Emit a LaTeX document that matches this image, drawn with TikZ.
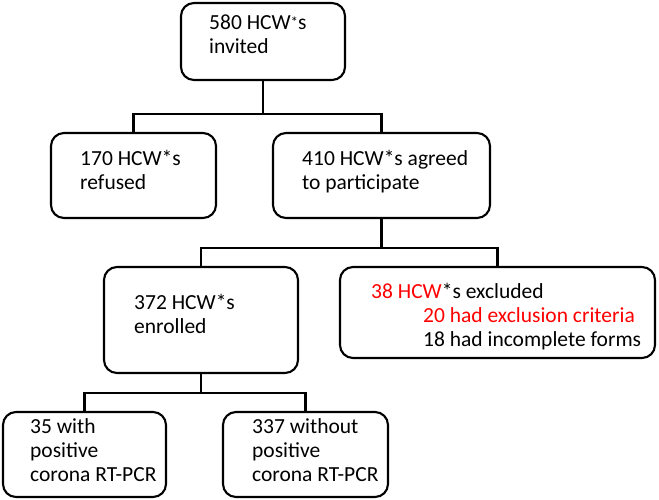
\documentclass[tikz,border=0pt]{standalone}
\usepackage{fontspec}
\setmainfont{Carlito}
\usetikzlibrary{positioning}

\begin{document}
\begin{tikzpicture}[
  x=1pt, y=-1pt,
  box/.style={draw, line width=2.1pt, rounded corners=13pt, inner sep=0pt},
  txt/.style={anchor=north west, align=left, inner sep=0pt, font=\fontsize{21.5}{24}\selectfont},
  link/.style={line width=2.1pt}
]
  \useasboundingbox (0,0) rectangle (659,499);

  % boxes
  \node[box, minimum width=164pt, minimum height=77pt] (invited) at (263,41.5) {};
  \node[box, minimum width=165pt, minimum height=85pt] (refused) at (133.5,175.5) {};
  \node[box, minimum width=217pt, minimum height=85pt] (agreed) at (381.5,175.5) {};
  \node[box, minimum width=194pt, minimum height=106pt] (enrolled) at (201,320) {};
  \node[box, minimum width=315pt, minimum height=91pt] (excluded) at (497.5,312.5) {};
  \node[box, minimum width=163pt, minimum height=85pt] (positive) at (84.5,454.5) {};
  \node[box, minimum width=165pt, minimum height=85pt] (negative) at (305.5,454.5) {};

  % texts
  \node[txt] (invited-t) at (209,14.2) {580 HCW\raisebox{2pt}{\fontsize{15}{15}\selectfont*}s\\invited};
  \node[txt] (refused-t) at (80,150.2) {170 HCW*s\\refused};
  \node[txt] (agreed-t) at (302,150.2) {410 HCW*s agreed\\to participate};
  \node[txt] (enrolled-t) at (134,294.2) {372 HCW*s\\enrolled};
  \node[txt] (excluded-t) at (371,283.2) {\textcolor{red}{38 HCW}*s excluded\\
    \hspace*{52pt}\textcolor{red}{20 had exclusion criteria}\\
    \hspace*{52pt}18 had incomplete forms};
  \node[txt] (positive-t) at (30,418.2) {35 with\\positive\\corona RT-PCR};
  \node[txt] (negative-t) at (252,418.2) {337 without\\positive\\corona RT-PCR};

  % connectors
  \draw[link] (invited.south) -- ++(0,33) -| (refused.north);
  \draw[link] (invited.south) ++(0,33) -| (agreed.north);
  \draw[link] (agreed.south) -- ++(0,29) -| (enrolled.north);
  \draw[link] (agreed.south) ++(0,29) -| (excluded.north);
  \draw[link] (enrolled.south) -- ++(0,19) -| (positive.north);
  \draw[link] (enrolled.south) ++(0,19) -| (negative.north);
\end{tikzpicture}
\end{document}
